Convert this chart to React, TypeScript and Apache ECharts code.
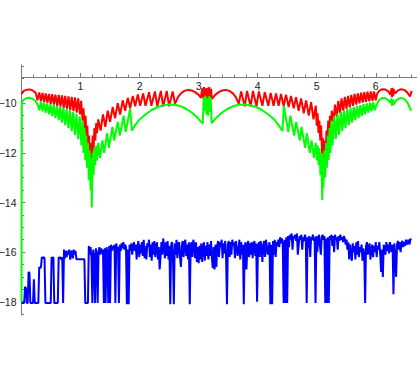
import React, { useEffect, useRef } from 'react';
import * as echarts from 'echarts';

const RED: [number, number][] = [
  [0, -9.62], [0.04, -9.5], [0.09, -9.45], [0.14, -9.44], [0.19, -9.48], [0.24, -9.58],
  [0.27, -9.88], [0.30, -9.56], [0.33, -9.92], [0.355, -9.58], [0.385, -9.95], [0.41, -9.6],
  [0.44, -9.98], [0.465, -9.62], [0.495, -10.02], [0.52, -9.63], [0.55, -10.05], [0.575, -9.65],
  [0.605, -10.1], [0.63, -9.66], [0.66, -10.13], [0.685, -9.68], [0.715, -10.18], [0.74, -9.7],
  [0.77, -10.22], [0.795, -9.72], [0.825, -10.27], [0.85, -9.74], [0.88, -10.32], [0.905, -9.76],
  [0.935, -10.38], [0.96, -9.8], [0.99, -10.45], [1.01, -9.9],
  [1.035, -10.7], [1.05, -10.2], [1.07, -11.0], [1.085, -10.5], [1.1, -11.4], [1.115, -10.9],
  [1.13, -11.9], [1.145, -11.3], [1.16, -12.65], [1.175, -11.6], [1.19, -12.2], [1.205, -11.3],
  [1.22, -11.9], [1.235, -11.0], [1.25, -11.5], [1.265, -10.8], [1.28, -11.2],
  [1.3, -10.65], [1.34, -11.1], [1.38, -10.45], [1.42, -10.95], [1.46, -10.3], [1.5, -10.75],
  [1.545, -10.15], [1.585, -10.6], [1.63, -10.0], [1.67, -10.45], [1.715, -9.88], [1.755, -10.3],
  [1.8, -9.78], [1.84, -10.2], [1.885, -9.7], [1.925, -10.12], [1.97, -9.64], [2.01, -10.1],
  [2.06, -9.6], [2.1, -10.1], [2.16, -9.55], [2.2, -10.1], [2.26, -9.52], [2.3, -10.12],
  [2.36, -9.5], [2.4, -10.13], [2.46, -9.5], [2.5, -10.12], [2.56, -9.52], [2.6, -10.02],
  [2.65, -9.75], [2.7, -9.6], [2.76, -9.5], [2.82, -9.46], [2.88, -9.48], [2.94, -9.55],
  [3.0, -9.66], [3.04, -9.78],
  [3.06, -9.4], [3.075, -9.8], [3.09, -9.35], [3.105, -9.75], [3.12, -9.4], [3.135, -9.85],
  [3.15, -9.38], [3.165, -9.8], [3.18, -9.35], [3.195, -9.75], [3.21, -9.42], [3.225, -9.82],
  [3.24, -9.78],
  [3.28, -9.66], [3.34, -9.55], [3.4, -9.48], [3.46, -9.46], [3.52, -9.5], [3.58, -9.6],
  [3.63, -9.75], [3.68, -10.02],
  [3.72, -9.52], [3.78, -10.12], [3.82, -9.5], [3.88, -10.13], [3.92, -9.5], [3.98, -10.12],
  [4.02, -9.52], [4.08, -10.1], [4.12, -9.55], [4.18, -10.1], [4.22, -9.58], [4.27, -10.1],
  [4.31, -9.6], [4.355, -10.1], [4.395, -9.62], [4.44, -10.12], [4.48, -9.65], [4.525, -10.15],
  [4.565, -9.7], [4.61, -10.2], [4.65, -9.75], [4.695, -10.3], [4.735, -9.8], [4.78, -10.4],
  [4.82, -9.88], [4.865, -10.5], [4.905, -9.95], [4.945, -10.65], [4.985, -10.1],
  [5.0, -10.9], [5.015, -10.4], [5.03, -11.2], [5.045, -10.7], [5.06, -11.5], [5.075, -10.9],
  [5.09, -12.0], [5.105, -11.4], [5.12, -12.65], [5.135, -11.5], [5.15, -12.2], [5.165, -11.1],
  [5.18, -11.6], [5.195, -10.7], [5.21, -11.3], [5.225, -10.5], [5.24, -11.0], [5.255, -10.3],
  [5.285, -10.75], [5.31, -10.05], [5.34, -10.55], [5.365, -9.9], [5.395, -10.4], [5.42, -9.8],
  [5.45, -10.3], [5.475, -9.74], [5.505, -10.22], [5.53, -9.7], [5.56, -10.16], [5.585, -9.66],
  [5.615, -10.1], [5.64, -9.62], [5.67, -10.05], [5.695, -9.6], [5.725, -10.0], [5.75, -9.57],
  [5.78, -9.97], [5.805, -9.55], [5.835, -9.94], [5.86, -9.53], [5.89, -9.92], [5.915, -9.52],
  [5.945, -9.9], [5.97, -9.52], [6.0, -9.88], [6.025, -9.6],
  [6.06, -9.5], [6.11, -9.43], [6.16, -9.44], [6.21, -9.52], [6.25, -9.65],
  [6.265, -9.4], [6.275, -9.75], [6.285, -9.38], [6.295, -9.7], [6.305, -9.45],
  [6.33, -9.6], [6.38, -9.48], [6.43, -9.43], [6.48, -9.46], [6.53, -9.55], [6.58, -9.72], [6.61, -9.5],
];

const GREEN: [number, number][] = [
  [0, -18], [0.005, -9.95], [0.04, -9.85], [0.09, -9.79], [0.14, -9.78], [0.19, -9.82],
  [0.24, -9.92], [0.28, -10.1],
  [0.3, -10.28], [0.325, -9.95], [0.355, -10.32], [0.38, -9.97], [0.41, -10.38], [0.435, -10.0],
  [0.465, -10.45], [0.49, -10.03], [0.52, -10.52], [0.545, -10.07], [0.575, -10.6], [0.6, -10.1],
  [0.63, -10.68], [0.655, -10.14], [0.685, -10.78], [0.71, -10.18], [0.74, -10.88], [0.765, -10.23],
  [0.795, -11.0], [0.82, -10.28], [0.85, -11.12], [0.875, -10.35], [0.905, -11.28], [0.93, -10.42],
  [0.96, -11.45], [0.985, -10.52], [1.015, -11.7], [1.035, -10.7],
  [1.05, -12.0], [1.065, -11.0], [1.08, -12.3], [1.095, -11.3], [1.11, -12.6], [1.125, -11.6],
  [1.14, -13.1], [1.155, -11.9], [1.17, -13.5], [1.18, -12.2], [1.19, -14.2], [1.205, -12.0],
  [1.22, -12.9], [1.235, -11.8], [1.25, -12.5], [1.265, -11.7], [1.28, -12.3], [1.3, -11.6],
  [1.33, -12.2], [1.37, -11.5], [1.4, -12.0], [1.45, -11.2], [1.48, -11.8], [1.54, -10.95],
  [1.57, -11.5], [1.63, -10.75], [1.665, -11.3], [1.73, -10.5], [1.765, -11.15], [1.84, -10.22],
  [1.87, -11.1],
  [1.92, -10.9], [2.0, -10.65], [2.1, -10.45], [2.2, -10.28], [2.3, -10.16], [2.4, -10.08],
  [2.5, -10.05], [2.6, -10.06], [2.7, -10.12], [2.8, -10.24], [2.9, -10.4], [2.98, -10.58],
  [3.04, -10.75], [3.07, -10.82],
  [3.085, -9.75], [3.1, -10.3], [3.115, -9.7], [3.13, -10.45], [3.145, -9.8], [3.16, -10.5],
  [3.175, -9.72], [3.19, -10.35], [3.205, -9.78], [3.22, -10.8],
  [3.24, -10.75], [3.3, -10.58], [3.38, -10.4], [3.48, -10.24], [3.58, -10.12], [3.68, -10.06],
  [3.78, -10.05], [3.88, -10.08], [3.98, -10.16], [4.08, -10.28], [4.18, -10.45], [4.28, -10.65],
  [4.36, -10.9], [4.42, -11.12],
  [4.443, -10.1], [4.518, -11.15], [4.553, -10.5], [4.618, -11.3], [4.653, -10.75], [4.713, -11.5],
  [4.743, -10.95], [4.803, -11.8], [4.833, -11.2], [4.883, -12.0], [4.913, -11.5], [4.953, -12.2],
  [4.983, -11.6], [5.003, -12.3], [5.018, -11.7], [5.033, -12.5], [5.048, -11.8], [5.063, -12.9],
  [5.078, -12.0], [5.093, -13.9], [5.103, -12.2], [5.113, -13.4], [5.128, -11.9], [5.143, -13.0],
  [5.158, -11.6], [5.173, -12.6], [5.188, -11.3], [5.203, -12.3], [5.218, -11.0], [5.233, -12.0],
  [5.248, -10.7], [5.268, -11.7], [5.298, -10.52], [5.323, -11.45], [5.353, -10.42], [5.378, -11.28],
  [5.408, -10.35], [5.433, -11.12], [5.463, -10.28], [5.488, -11.0], [5.518, -10.23], [5.543, -10.88],
  [5.573, -10.18], [5.598, -10.78], [5.628, -10.14], [5.653, -10.68], [5.683, -10.1], [5.708, -10.6],
  [5.738, -10.07], [5.763, -10.52], [5.793, -10.03], [5.818, -10.45], [5.848, -10.0], [5.873, -10.38],
  [5.903, -9.97], [5.928, -10.32], [5.958, -9.95], [5.983, -10.28],
  [6.0, -10.15], [6.05, -9.88], [6.1, -9.8], [6.15, -9.79], [6.2, -9.85], [6.25, -9.98],
  [6.265, -9.8], [6.275, -10.1], [6.29, -9.85], [6.305, -10.05],
  [6.34, -9.9], [6.39, -9.81], [6.44, -9.79], [6.49, -9.84], [6.54, -9.98], [6.6, -10.3],
];

// blue samples, one every BLUE_DX along x, 10 per row
const BLUE_DX = 0.015;
const BLUE_Y: number[] = [
  -18.05, -18.05, -18.05, -18.05, -17.4, -17.45, -18.05, -18.05, -16.8, -16.85,
  -18.05, -18.05, -18.05, -18.05, -17.1, -18.05, -18.05, -18.05, -18.05, -18.05,
  -16.6, -16.65, -16.6, -16.2, -16.25, -16.2, -16.25, -18.05, -18.05, -18.05,
  -18.05, -18.05, -18.05, -18.05, -16.2, -16.25, -16.2, -18.05, -18.05, -18.05,
  -18.05, -18.05, -16.2, -16.25, -16.2, -16.3, -16.2, -18.05, -15.9, -16.25,
  -15.95, -16.2, -15.95, -16.1, -15.9, -16.3, -16.0, -15.95, -16.25, -15.9,
  -16.1, -15.95, -16.29, -16.29, -16.29, -16.29, -16.29, -16.29, -16.29, -16.29,
  -16.29, -16.29, -18.05, -18.05, -18.05, -18.05, -15.75, -16.1, -15.8, -16.2,
  -18.05, -15.9, -16.2, -18.05, -15.85, -16.1, -18.05, -16.0, -15.8, -16.1,
  -15.85, -16.05, -15.9, -18.05, -15.85, -18.05, -15.8, -16.05, -18.05, -15.75,
  -18.05, -15.7, -15.95, -15.75, -15.9, -15.7, -18.05, -15.65, -15.9, -15.8,
  -18.05, -15.7, -15.95, -15.65, -15.85, -15.6, -15.9, -15.7, -15.8, -18.1,
  -15.9, -18.1, -15.7, -15.95, -15.65, -16.1, -15.75, -15.6, -15.95, -15.7,
  -16.3, -15.8, -15.55, -16.2, -15.7, -16.05, -15.6, -16.15, -15.5, -16.25,
  -15.75, -16.3, -15.65, -15.8, -15.5, -16.2, -15.7, -16.35, -15.6, -16.1,
  -15.55, -16.2, -15.75, -15.6, -16.3, -15.8, -16.7, -16.2, -15.6, -16.1,
  -15.45, -15.8, -16.25, -15.6, -16.15, -15.55, -16.3, -15.75, -18.1, -15.7,
  -15.6, -16.2, -18.1, -15.65, -16.1, -15.5, -16.25, -15.7, -15.6, -16.2,
  -16.6, -15.75, -15.55, -16.2, -15.65, -15.5, -16.15, -15.7, -16.3, -15.6,
  -18.1, -15.75, -15.6, -16.2, -15.5, -15.7, -16.25, -15.6, -16.4, -15.8,
  -16.45, -15.75, -16.3, -15.65, -16.4, -15.8, -15.6, -16.35, -15.75, -16.15,
  -15.6, -16.3, -15.7, -16.15, -15.55, -16.25, -16.65, -15.8, -16.7, -15.7,
  -16.6, -15.75, -15.55, -16.2, -15.6, -15.8, -15.5, -16.25, -15.65, -16.05,
  -15.55, -16.2, -18.1, -15.7, -15.55, -16.2, -15.6, -16.1, -15.5, -15.75,
  -15.6, -16.25, -15.55, -15.8, -16.15, -15.9, -15.5, -16.3, -15.6, -16.1,
  -15.7, -18.1, -15.8, -15.6, -16.7, -15.75, -15.55, -16.2, -15.65, -16.1,
  -15.6, -16.25, -15.7, -15.55, -16.15, -15.65, -18.0, -15.75, -15.6, -16.2,
  -15.55, -15.8, -16.4, -15.7, -15.55, -16.2, -15.5, -15.75, -16.1, -15.85,
  -15.6, -18.1, -15.7, -18.1, -15.55, -16.1, -15.5, -16.2, -15.6, -15.75,
  -15.5, -15.8, -15.4, -15.65, -15.45, -15.7, -18.05, -15.5, -18.05, -15.4,
  -18.05, -15.35, -15.8, -15.3, -15.5, -15.25, -15.9, -15.35, -15.45, -15.3,
  -15.55, -15.25, -16.1, -15.7, -15.35, -15.5, -15.3, -15.9, -15.4, -15.55,
  -15.3, -15.45, -18.05, -15.4, -15.85, -15.35, -16.2, -15.4, -15.5, -15.3,
  -15.55, -15.4, -18.05, -15.35, -16.0, -15.45, -15.3, -15.75, -16.1, -15.4,
  -15.3, -15.5, -15.35, -18.05, -15.45, -18.05, -15.4, -18.05, -15.35, -15.5,
  -15.3, -15.75, -15.35, -16.0, -15.3, -15.5, -15.4, -15.9, -15.35, -15.55,
  -15.3, -15.5, -15.4, -15.6, -15.35, -15.45, -15.7, -15.5, -15.9, -15.6,
  -16.3, -15.7, -16.1, -16.35, -15.65, -16.0, -15.75, -16.3, -15.6, -16.1,
  -15.55, -16.2, -15.8, -16.0, -15.7, -16.35, -15.85, -16.1, -18.05, -15.75,
  -15.6, -16.1, -15.8, -15.65, -16.3, -15.9, -15.7, -16.2, -15.75, -16.0,
  -15.6, -16.2, -15.75, -15.9, -15.6, -16.05, -16.8, -15.9, -17.0, -15.7,
  -15.85, -16.1, -15.6, -15.95, -15.7, -16.05, -15.6, -15.85, -16.0, -15.7,
  -17.7, -15.65, -16.2, -17.0, -15.7, -15.55, -15.9, -15.6, -16.0, -15.65,
  -15.55, -15.8, -15.6, -15.75, -15.5, -15.7, -15.6, -15.5, -15.7, -15.5,
  -15.45,
];

const X_MAJOR = [1, 2, 3, 4, 5, 6];
const X_MINOR = [0.2, 0.4, 0.6, 0.8, 1.2, 1.4, 1.6, 1.8, 2.2, 2.4, 2.6, 2.8, 3.2, 3.4, 3.6, 3.8,
  4.2, 4.4, 4.6, 4.8, 5.2, 5.4, 5.6, 5.8, 6.2, 6.4, 6.6];
const Y_MAJOR = [-18, -16, -14, -12, -10];
const Y_MINOR = [-18.5, -17.5, -17, -16.5, -15.5, -15, -14.5, -13.5, -13, -12.5, -11.5, -11, -10.5,
  -9.5, -9, -8.5];

const X_MIN = 0;
const X_MAX = 6.69;
const Y_MIN = -18.536;
const Y_MAX = -8.456;

export default function App() {
  const ref = useRef<HTMLDivElement>(null);
  useEffect(() => {
    const chart = echarts.init(ref.current as HTMLDivElement, null, { renderer: 'svg' });
    const AX = '#7a7a7a';
    const LBL = '#222222';
    const FONT = 'Liberation Sans';
    const blue = BLUE_Y.map((y, i) => [i * BLUE_DX, y]);
    const minus = (v: number) => (v < 0 ? '\u2212' + Math.abs(v) : String(v));
    chart.setOption({
      animation: false,
      backgroundColor: '#ffffff',
      grid: { left: 21.5, right: 3.5, top: 65, bottom: 65, containLabel: false, outerBoundsMode: 'none' },
      xAxis: [
        {
          type: 'value', min: X_MIN, max: X_MAX, position: 'bottom', offset: -238,
          axisLine: { show: true, onZero: false, lineStyle: { color: AX, width: 1 } },
          axisTick: { show: true, inside: true, length: 4, customValues: X_MAJOR, lineStyle: { color: AX } },
          axisLabel: { show: true, customValues: X_MAJOR, margin: 3, color: LBL, fontSize: 10.5, fontFamily: FONT },
          splitLine: { show: false },
        },
        {
          type: 'value', min: X_MIN, max: X_MAX, position: 'bottom', offset: -238,
          axisLine: { show: false, onZero: false },
          axisTick: { show: true, inside: true, length: 2.5, customValues: X_MINOR, lineStyle: { color: AX } },
          axisLabel: { show: false },
          splitLine: { show: false },
        },
      ],
      yAxis: [
        {
          type: 'value', min: Y_MIN, max: Y_MAX, position: 'left',
          axisLine: { show: true, onZero: false, lineStyle: { color: AX, width: 1 } },
          axisTick: { show: true, inside: true, length: 4, customValues: Y_MAJOR, lineStyle: { color: AX } },
          axisLabel: { show: true, customValues: Y_MAJOR, margin: 5, color: LBL, fontSize: 10.5, fontFamily: FONT, formatter: minus },
          splitLine: { show: false },
        },
        {
          type: 'value', min: Y_MIN, max: Y_MAX, position: 'left',
          axisLine: { show: false, onZero: false },
          axisTick: { show: true, inside: true, length: 2.5, customValues: Y_MINOR, lineStyle: { color: AX } },
          axisLabel: { show: false },
          splitLine: { show: false },
        },
      ],
      series: [
        { type: 'line', data: RED, xAxisIndex: 0, yAxisIndex: 0, showSymbol: false, symbol: 'none', z: 2,
          lineStyle: { color: '#ff0000', width: 2 } },
        { type: 'line', data: GREEN, xAxisIndex: 0, yAxisIndex: 0, showSymbol: false, symbol: 'none', z: 3,
          lineStyle: { color: '#00ff00', width: 2 } },
        { type: 'line', data: blue, xAxisIndex: 0, yAxisIndex: 0, showSymbol: false, symbol: 'none', z: 4,
          lineStyle: { color: '#0000ff', width: 2 } },
      ],
    });
    return () => chart.dispose();
  }, []);
  return (
    <div
      ref={ref}
      style={{ position: 'absolute', left: 0, top: 0, width: 420, height: 380, background: '#ffffff' }}
    />
  );
}
